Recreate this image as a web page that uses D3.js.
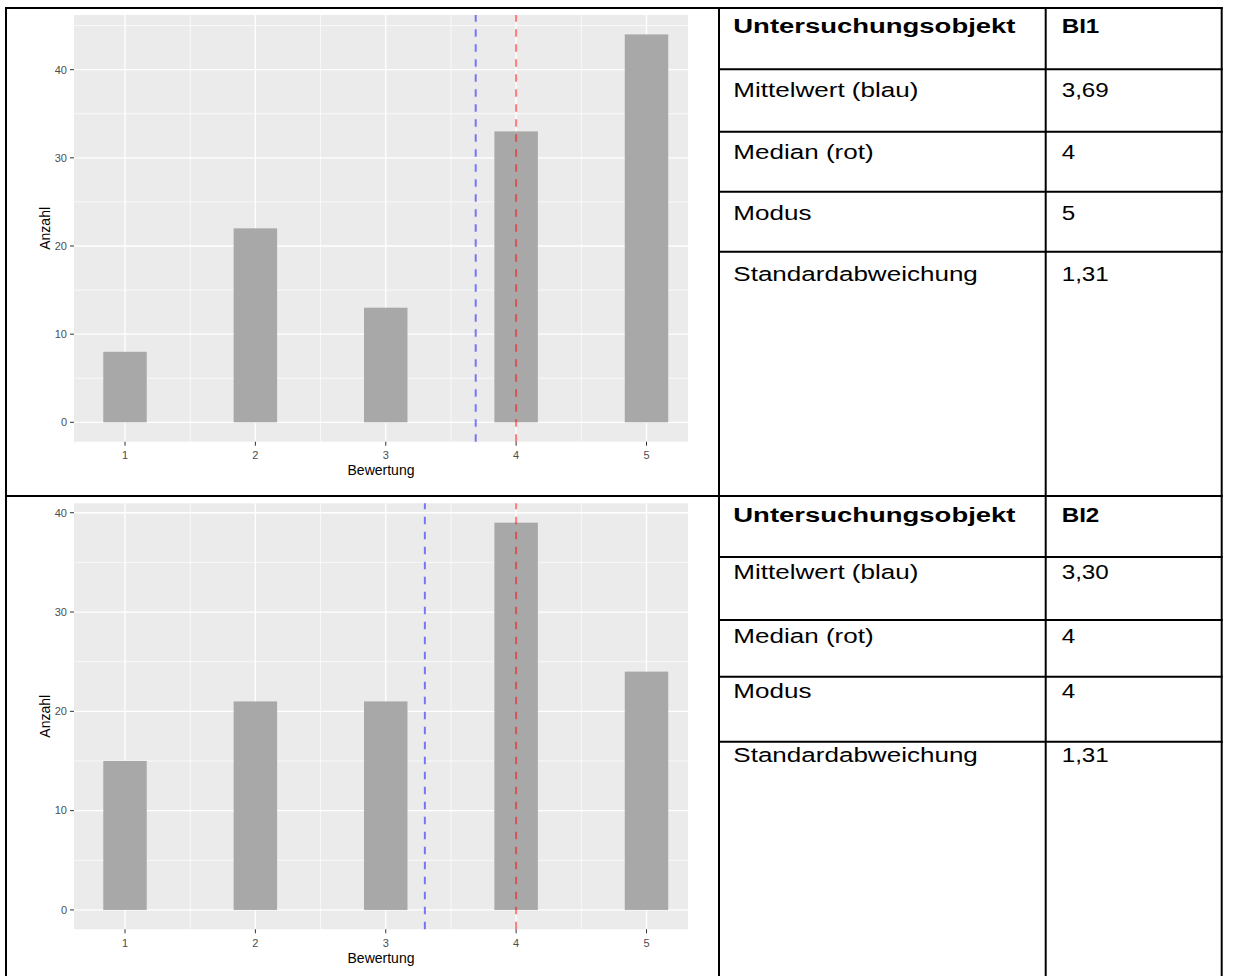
<!DOCTYPE html>
<html>
<head>
<meta charset="utf-8">
<script src="https://cdn.jsdelivr.net/npm/d3@7"></script>
<style>
  html, body { margin: 0; padding: 0; background: #ffffff; }
  svg { display: block; }
</style>
</head>
<body>
<svg id="chart" width="1253" height="976"></svg>
<script>
// ---------------- data ----------------
const bewertung = [1, 2, 3, 4, 5];
const counts1 = [8, 22, 13, 33, 44];
const counts2 = [15, 21, 21, 39, 24];
const means = [3.69, 3.30];
const medians = [4, 4];
const yTicks = [0, 10, 20, 30, 40];
const tableLabels = ["Untersuchungsobjekt", "Mittelwert (blau)", "Median (rot)", "Modus", "Standardabweichung"];
const tableValues1 = ["BI1", "3,69", "4", "5", "1,31"];
const tableValues2 = ["BI2", "3,30", "4", "4", "1,31"];
const xTitle = "Bewertung";
const yTitle = "Anzahl";

// ---------------- layout ----------------
const svg = d3.select("#chart");
svg.append("rect").attr("width", 1253).attr("height", 976).attr("fill", "#fff");

const panelLeft = 74, panelRight = 688;
const x = d3.scaleLinear().domain([1, 5]).range([125, 646.5]);
const barWidth = 1 / 3;

const charts = [
  { counts: counts1, mean: means[0], median: medians[0], top: 15, bottom: 441.7 },
  { counts: counts2, mean: means[1], median: medians[1], top: 503.3, bottom: 929.3 }
];

const tickFont = "Liberation Sans, Arial, sans-serif";

charts.forEach(c => {
  const mx = d3.max(c.counts);
  const pad = mx * 0.05;
  const y = d3.scaleLinear().domain([-pad, mx + pad]).range([c.bottom, c.top]);
  const g = svg.append("g");

  g.append("rect")
    .attr("x", panelLeft).attr("y", c.top)
    .attr("width", panelRight - panelLeft).attr("height", c.bottom - c.top)
    .attr("fill", "#ebebeb");

  // minor grid
  const yMinor = d3.range(5, mx + pad, 10);
  g.selectAll(".ymin").data(yMinor).join("line")
    .attr("x1", panelLeft).attr("x2", panelRight)
    .attr("y1", d => y(d)).attr("y2", d => y(d))
    .attr("stroke", "#fff").attr("stroke-width", 0.7);
  const xMinor = [1.5, 2.5, 3.5, 4.5];
  g.selectAll(".xmin").data(xMinor).join("line")
    .attr("y1", c.top).attr("y2", c.bottom)
    .attr("x1", d => x(d)).attr("x2", d => x(d))
    .attr("stroke", "#fff").attr("stroke-width", 0.7);
  // major grid
  g.selectAll(".ymaj").data(yTicks).join("line")
    .attr("x1", panelLeft).attr("x2", panelRight)
    .attr("y1", d => y(d)).attr("y2", d => y(d))
    .attr("stroke", "#fff").attr("stroke-width", 1.3);
  g.selectAll(".xmaj").data(bewertung).join("line")
    .attr("y1", c.top).attr("y2", c.bottom)
    .attr("x1", d => x(d)).attr("x2", d => x(d))
    .attr("stroke", "#fff").attr("stroke-width", 1.3);

  // bars
  g.selectAll(".bar").data(bewertung).join("rect")
    .attr("x", d => x(d - barWidth / 2))
    .attr("width", d => x(d + barWidth / 2) - x(d - barWidth / 2))
    .attr("y", (d, i) => y(c.counts[i]))
    .attr("height", (d, i) => y(0) - y(c.counts[i]))
    .attr("fill", "#a8a8a8");

  // vertical lines (drawn bottom -> top, like ggplot)
  [[c.mean, "blue"], [c.median, "red"]].forEach(([v, col]) => {
    g.append("line")
      .attr("x1", x(v)).attr("x2", x(v))
      .attr("y1", c.bottom).attr("y2", c.top)
      .attr("stroke", col).attr("stroke-opacity", 0.5)
      .attr("stroke-width", 2).attr("stroke-dasharray", "7.5,7.5");
  });

  // y axis ticks + labels
  g.selectAll(".yt").data(yTicks).join("line")
    .attr("x1", panelLeft - 4).attr("x2", panelLeft)
    .attr("y1", d => y(d)).attr("y2", d => y(d))
    .attr("stroke", "#333").attr("stroke-width", 1);
  g.selectAll(".yl").data(yTicks).join("text")
    .attr("x", panelLeft - 7).attr("y", d => y(d))
    .attr("dy", "0.35em").attr("text-anchor", "end")
    .attr("font-family", tickFont).attr("font-size", 11)
    .attr("fill", "#4d4d4d").text(d => d);

  // x axis ticks + labels
  g.selectAll(".xt").data(bewertung).join("line")
    .attr("x1", d => x(d)).attr("x2", d => x(d))
    .attr("y1", c.bottom).attr("y2", c.bottom + 4)
    .attr("stroke", "#333").attr("stroke-width", 1);
  g.selectAll(".xl").data(bewertung).join("text")
    .attr("x", d => x(d)).attr("y", c.bottom + 17.5)
    .attr("text-anchor", "middle")
    .attr("font-family", tickFont).attr("font-size", 11)
    .attr("fill", "#4d4d4d").text(d => d);

  // titles
  g.append("text")
    .attr("x", (panelLeft + panelRight) / 2).attr("y", c.bottom + 33.5)
    .attr("text-anchor", "middle")
    .attr("font-family", tickFont).attr("font-size", 14)
    .attr("fill", "#000").text(xTitle);
  g.append("text")
    .attr("transform", `translate(49.5,${(c.top + c.bottom) / 2}) rotate(-90)`)
    .attr("text-anchor", "middle")
    .attr("font-family", tickFont).attr("font-size", 14)
    .attr("fill", "#000").text(yTitle);
});

// ---------------- table / frame ----------------
const col0 = 719, col1 = 1045.7, col2 = 1221.7;
const frame = svg.append("g").attr("stroke", "#000").attr("stroke-width", 2);
frame.append("line").attr("x1", 5).attr("x2", col2 + 1).attr("y1", 8).attr("y2", 8);
frame.append("line").attr("x1", 5).attr("x2", col2 + 1).attr("y1", 496).attr("y2", 496);
[6, col0, col1, col2].forEach(xx => {
  frame.append("line").attr("x1", xx).attr("x2", xx).attr("y1", 7).attr("y2", 976);
});

const tables = [
  { values: tableValues1, lines: [69.3, 131.7, 191.7, 251.7], baselines: [33.3, 96.7, 159.3, 220, 281] },
  { values: tableValues2, lines: [557, 620, 676.7, 741.7], baselines: [521.7, 579, 642.7, 698.3, 761.7] }
];
const tableFontSize = 20.5;
tables.forEach(t => {
  t.lines.forEach(ly => {
    frame.append("line").attr("x1", col0).attr("x2", col2 + 1).attr("y1", ly).attr("y2", ly);
  });
  tableLabels.forEach((lab, i) => {
    svg.append("text")
      .attr("transform", `translate(733.3,${t.baselines[i]}) scale(${i === 0 ? 1.34 : 1.27},1)`)
      .attr("font-family", tickFont).attr("font-size", tableFontSize)
      .attr("font-weight", i === 0 ? "bold" : "normal")
      .attr("fill", "#000").text(lab);
    svg.append("text")
      .attr("transform", `translate(1061.7,${t.baselines[i]}) scale(1.18,1)`)
      .attr("font-family", tickFont).attr("font-size", tableFontSize)
      .attr("font-weight", i === 0 ? "bold" : "normal")
      .attr("fill", "#000").text(t.values[i]);
  });
});
</script>
</body>
</html>
